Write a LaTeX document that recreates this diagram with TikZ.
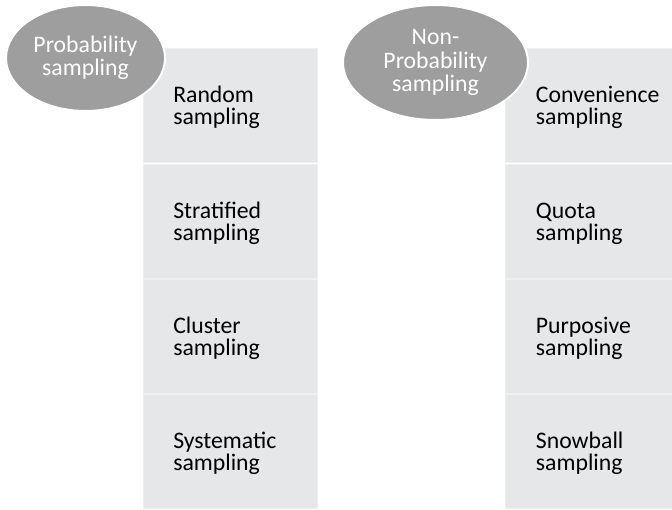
\documentclass[tikz,border=0pt]{standalone}
\usepackage{fontspec}
\setmainfont{Carlito}
\usetikzlibrary{shapes.geometric}
\definecolor{cellgray}{HTML}{E6E7E8}
\definecolor{celledge}{HTML}{EFEFF0}
\definecolor{ovalgray}{HTML}{9E9E9E}
\begin{document}
\begin{tikzpicture}[x=0.75pt,y=-0.75pt,
  cell/.style={rectangle, fill=cellgray, draw=celledge, line width=1pt,
    inner sep=0pt, anchor=north west, minimum height=85.5pt},
  leftcell/.style={cell, minimum width=130.5pt},
  rightcell/.style={cell, minimum width=126pt},
  oval/.style={ellipse, fill=ovalgray, draw=white, line width=1.5pt,
    inner sep=0pt, text=white, align=center,
    font=\fontsize{17.8}{17.6}\selectfont},
  item/.style={anchor=west, align=left, inner sep=0pt, text=black,
    font=\fontsize{17.8}{16.4}\selectfont}]
  % canvas
  \useasboundingbox (0,0) rectangle (672,510);

  % probability column
  \node[leftcell] (p1) at (143,48)  {};
  \node[leftcell] (p2) at (143,164) {};
  \node[leftcell] (p3) at (143,279) {};
  \node[leftcell] (p4) at (143,394) {};
  \node[item] (tp1) at ([xshift=22.5pt,yshift=-1.5pt]p1.west) {Random\\sampling};
  \node[item] (tp2) at ([xshift=22.5pt,yshift=-1.5pt]p2.west) {Stratified\\sampling};
  \node[item] (tp3) at ([xshift=22.5pt,yshift=-1.5pt]p3.west) {Cluster\\sampling};
  \node[item] (tp4) at ([xshift=22.5pt,yshift=-1.5pt]p4.west) {Systematic\\sampling};

  % non-probability column
  \node[rightcell] (n1) at (505,48)  {};
  \node[rightcell] (n2) at (505,164) {};
  \node[rightcell] (n3) at (505,279) {};
  \node[rightcell] (n4) at (505,394) {};
  \node[item] (tn1) at ([xshift=23pt,yshift=-1.5pt]n1.west) {Convenience\\sampling};
  \node[item] (tn2) at ([xshift=23pt,yshift=-1.5pt]n2.west) {Quota\\sampling};
  \node[item] (tn3) at ([xshift=23pt,yshift=-1.5pt]n3.west) {Purposive\\sampling};
  \node[item] (tn4) at ([xshift=23pt,yshift=-1.5pt]n4.west) {Snowball\\sampling};

  % category ovals on top of the columns
  \node[oval, minimum width=119.25pt, minimum height=79.5pt] (prob) at (85.5,58)
    {Probability\\sampling};
  \node[oval, minimum width=138.75pt, minimum height=86.25pt] (nonprob) at (435.5,62.5)
    {Non-\\Probability\\sampling};
\end{tikzpicture}
\end{document}
